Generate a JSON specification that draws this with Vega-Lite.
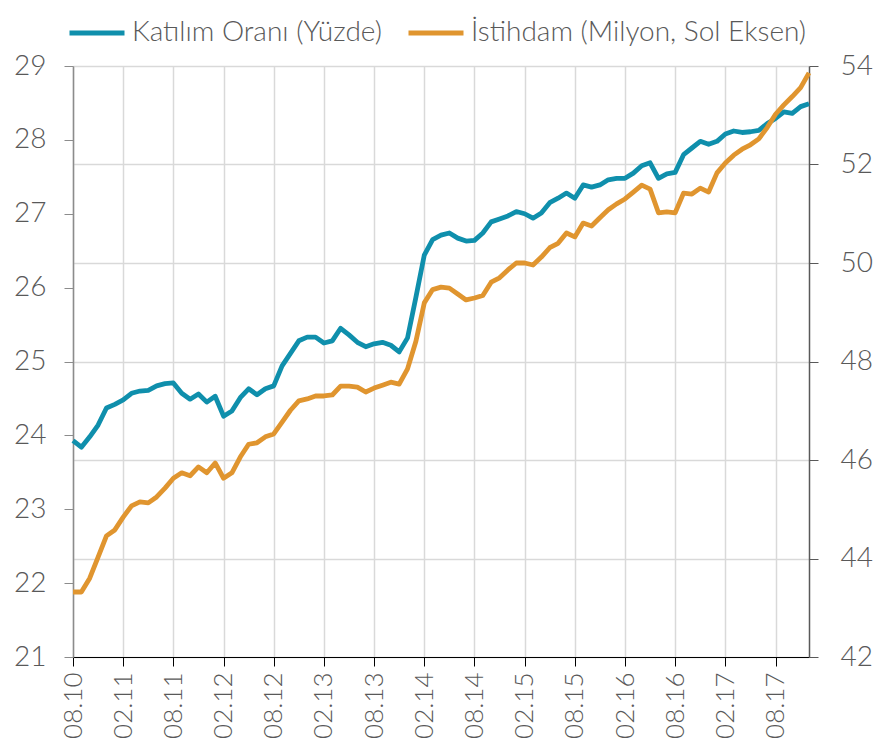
{
  "$schema": "https://vega.github.io/schema/vega-lite/v6.json",
  "width": 736,
  "height": 591,
  "autosize": "none",
  "padding": {"left": 73, "top": 66, "right": 85, "bottom": 95},
  "config": {"view": {"stroke": null}, "font": "Lato", "background": "white"},
  "data": {"values": [
    {"m": "08.10", "k": 23.93, "e": 43.32},
    {"m": "09.10", "k": 23.84, "e": 43.32},
    {"m": "10.10", "k": 23.98, "e": 43.60},
    {"m": "11.10", "k": 24.14, "e": 44.03},
    {"m": "12.10", "k": 24.37, "e": 44.46},
    {"m": "01.11", "k": 24.42, "e": 44.58},
    {"m": "02.11", "k": 24.48, "e": 44.84},
    {"m": "03.11", "k": 24.57, "e": 45.07},
    {"m": "04.11", "k": 24.60, "e": 45.15},
    {"m": "05.11", "k": 24.61, "e": 45.13},
    {"m": "06.11", "k": 24.67, "e": 45.25},
    {"m": "07.11", "k": 24.70, "e": 45.43},
    {"m": "08.11", "k": 24.71, "e": 45.63},
    {"m": "09.11", "k": 24.57, "e": 45.74},
    {"m": "10.11", "k": 24.49, "e": 45.68},
    {"m": "11.11", "k": 24.56, "e": 45.86},
    {"m": "12.11", "k": 24.45, "e": 45.74},
    {"m": "01.12", "k": 24.53, "e": 45.94},
    {"m": "02.12", "k": 24.26, "e": 45.63},
    {"m": "03.12", "k": 24.33, "e": 45.74},
    {"m": "04.12", "k": 24.51, "e": 46.06},
    {"m": "05.12", "k": 24.63, "e": 46.32},
    {"m": "06.12", "k": 24.55, "e": 46.35},
    {"m": "07.12", "k": 24.63, "e": 46.47},
    {"m": "08.12", "k": 24.67, "e": 46.53},
    {"m": "09.12", "k": 24.94, "e": 46.77},
    {"m": "10.12", "k": 25.11, "e": 47.01},
    {"m": "11.12", "k": 25.28, "e": 47.20},
    {"m": "12.12", "k": 25.33, "e": 47.24},
    {"m": "01.13", "k": 25.33, "e": 47.30},
    {"m": "02.13", "k": 25.25, "e": 47.30},
    {"m": "03.13", "k": 25.28, "e": 47.32},
    {"m": "04.13", "k": 25.45, "e": 47.50},
    {"m": "05.13", "k": 25.36, "e": 47.50},
    {"m": "06.13", "k": 25.26, "e": 47.48},
    {"m": "07.13", "k": 25.20, "e": 47.38},
    {"m": "08.13", "k": 25.24, "e": 47.46},
    {"m": "09.13", "k": 25.26, "e": 47.52},
    {"m": "10.13", "k": 25.22, "e": 47.58},
    {"m": "11.13", "k": 25.13, "e": 47.54},
    {"m": "12.13", "k": 25.32, "e": 47.85},
    {"m": "01.14", "k": 25.87, "e": 48.41},
    {"m": "02.14", "k": 26.44, "e": 49.19},
    {"m": "03.14", "k": 26.65, "e": 49.46},
    {"m": "04.14", "k": 26.71, "e": 49.51},
    {"m": "05.14", "k": 26.74, "e": 49.49},
    {"m": "06.14", "k": 26.67, "e": 49.37},
    {"m": "07.14", "k": 26.63, "e": 49.25},
    {"m": "08.14", "k": 26.64, "e": 49.29},
    {"m": "09.14", "k": 26.74, "e": 49.34},
    {"m": "10.14", "k": 26.89, "e": 49.61},
    {"m": "11.14", "k": 26.93, "e": 49.70},
    {"m": "12.14", "k": 26.97, "e": 49.86},
    {"m": "01.15", "k": 27.03, "e": 50.00},
    {"m": "02.15", "k": 27.00, "e": 50.00},
    {"m": "03.15", "k": 26.94, "e": 49.96},
    {"m": "04.15", "k": 27.01, "e": 50.12},
    {"m": "05.15", "k": 27.15, "e": 50.31},
    {"m": "06.15", "k": 27.21, "e": 50.40},
    {"m": "07.15", "k": 27.28, "e": 50.61},
    {"m": "08.15", "k": 27.21, "e": 50.53},
    {"m": "09.15", "k": 27.39, "e": 50.81},
    {"m": "10.15", "k": 27.36, "e": 50.75},
    {"m": "11.15", "k": 27.39, "e": 50.92},
    {"m": "12.15", "k": 27.46, "e": 51.08},
    {"m": "01.16", "k": 27.48, "e": 51.20},
    {"m": "02.16", "k": 27.48, "e": 51.30},
    {"m": "03.16", "k": 27.55, "e": 51.44},
    {"m": "04.16", "k": 27.65, "e": 51.58},
    {"m": "05.16", "k": 27.69, "e": 51.50},
    {"m": "06.16", "k": 27.48, "e": 51.02},
    {"m": "07.16", "k": 27.54, "e": 51.04},
    {"m": "08.16", "k": 27.56, "e": 51.02},
    {"m": "09.16", "k": 27.80, "e": 51.42},
    {"m": "10.16", "k": 27.89, "e": 51.40},
    {"m": "11.16", "k": 27.98, "e": 51.52},
    {"m": "12.16", "k": 27.94, "e": 51.44},
    {"m": "01.17", "k": 27.98, "e": 51.83},
    {"m": "02.17", "k": 28.08, "e": 52.03},
    {"m": "03.17", "k": 28.12, "e": 52.19},
    {"m": "04.17", "k": 28.10, "e": 52.31},
    {"m": "05.17", "k": 28.11, "e": 52.40},
    {"m": "06.17", "k": 28.13, "e": 52.52},
    {"m": "07.17", "k": 28.22, "e": 52.75},
    {"m": "08.17", "k": 28.29, "e": 53.02},
    {"m": "09.17", "k": 28.38, "e": 53.21},
    {"m": "10.17", "k": 28.36, "e": 53.38},
    {"m": "11.17", "k": 28.45, "e": 53.56},
    {"m": "12.17", "k": 28.49, "e": 53.86}
  ]},
  "encoding": {
    "x": {
      "field": "m", "type": "ordinal", "sort": null,
      "scale": {"type": "point", "padding": 0},
      "axis": {
        "title": null,
        "values": ["08.10", "02.11", "08.11", "02.12", "08.12", "02.13", "08.13", "02.14", "08.14", "02.15", "08.15", "02.16", "08.16", "02.17", "08.17"],
        "labelAngle": -90, "labelFontSize": 26, "labelFontWeight": 300, "labelColor": "#595959", "labelPadding": 6,
        "tickColor": "#000000", "tickSize": 9, "domainColor": "#000000", "domainWidth": 1.2,
        "grid": true, "gridColor": "#d9d9d9", "gridWidth": 1.5
      }
    }
  },
  "layer": [
    {
      "mark": {"type": "line", "strokeWidth": 4.8, "strokeJoin": "round"},
      "encoding": {
        "y": {
          "field": "k", "type": "quantitative",
          "scale": {"domain": [21, 29], "nice": false, "zero": false},
          "axis": {
            "orient": "left", "title": null, "values": [21, 22, 23, 24, 25, 26, 27, 28, 29],
            "grid": false, "labelFontSize": 28, "labelFontWeight": 300, "labelColor": "#595959", "labelPadding": 18,
            "tickColor": "#8c8c8c", "tickSize": 9, "domainColor": "#8c8c8c", "domainWidth": 1.5
          }
        },
        "color": {
          "datum": "Katılım Oranı (Yüzde)", "type": "nominal",
          "scale": {"domain": ["Katılım Oranı (Yüzde)", "İstihdam (Milyon, Sol Eksen)"], "range": ["#0f8fac", "#e0952f"]},
          "legend": {
            "title": null, "orient": "none", "legendX": -6, "legendY": -63, "direction": "horizontal",
            "symbolType": "stroke", "symbolSize": 3025, "symbolStrokeWidth": 5,
            "labelFontSize": 28, "labelFontWeight": 300, "labelColor": "#595959", "labelOffset": 5, "columnPadding": 15,
            "labelLimit": 500, "padding": 0
          }
        }
      }
    },
    {
      "mark": {"type": "line", "strokeWidth": 4.8, "strokeJoin": "round"},
      "encoding": {
        "y": {
          "field": "e", "type": "quantitative",
          "scale": {"domain": [42, 54], "nice": false, "zero": false},
          "axis": {
            "orient": "right", "title": null, "values": [42, 44, 46, 48, 50, 52, 54],
            "grid": true, "gridColor": "#d9d9d9", "gridWidth": 1.5,
            "labelFontSize": 28, "labelFontWeight": 300, "labelColor": "#595959", "labelPadding": 22,
            "tickColor": "#595959", "tickSize": 9, "domainColor": "#595959", "domainWidth": 1.5
          }
        },
        "color": {"datum": "İstihdam (Milyon, Sol Eksen)", "type": "nominal"}
      }
    }
  ],
  "resolve": {"scale": {"y": "independent"}}
}
